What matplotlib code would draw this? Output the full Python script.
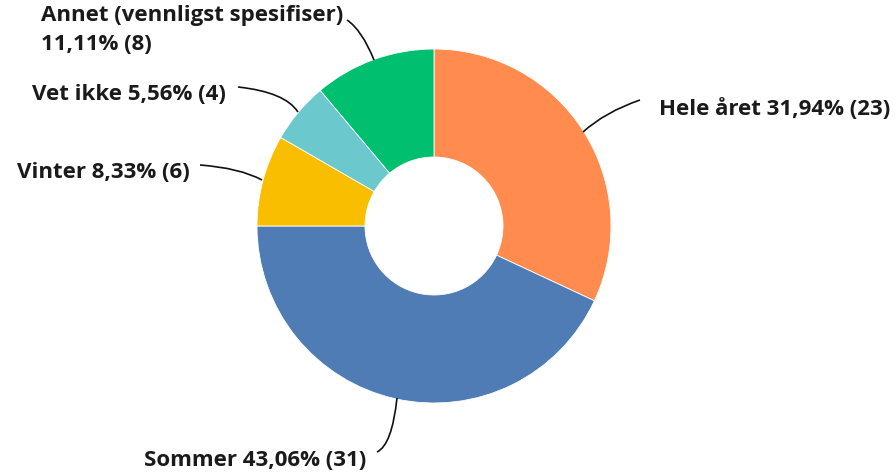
import matplotlib.pyplot as plt
from matplotlib.path import Path
from matplotlib.patches import PathPatch

categories = ["Hele året", "Sommer", "Vinter", "Vet ikke", "Annet (vennligst spesifiser)"]
percents = [31.94, 43.06, 8.33, 5.56, 11.11]
counts = [23, 31, 6, 4, 8]
colors = ["#FF8B4F", "#507CB6", "#F9BE00", "#6BC8CD", "#00BF6F"]

W, H = 896, 475
fig = plt.figure(figsize=(W / 100, H / 100), dpi=100)
ax = fig.add_axes([0, 0, 1, 1])

cx, cy = 434, H - 226
ax.pie(counts, colors=colors, startangle=90, counterclock=False,
       center=(cx, cy), radius=177, frame=True,
       wedgeprops=dict(width=108, edgecolor="white", linewidth=0.6))
ax.set_xlim(0, W)
ax.set_ylim(0, H)
ax.set_aspect("equal")
ax.axis("off")


def fmt(p):
    return f"{p:.2f}".replace(".", ",")


labels = [f"{c} {fmt(p)}% ({n})" for c, p, n in zip(categories, percents, counts)]
labels[4] = f"{categories[4]}\n{fmt(percents[4])}% ({counts[4]})"

# label anchor (left x, centre y in image pixels), leader line start, ctrl, end
label_pos = [(659, 109), (144, 461), (17, 172), (32, 95), (41, 30)]
leaders = [
    [(640, 100), (605, 112), (583, 132)],
    [(377, 452), (392, 445), (397, 398)],
    [(200, 165), (240, 168), (262, 180)],
    [(238, 87), (285, 92), (298, 112)],
    [(347, 20), (362, 30), (374, 60)],
]

font = ["Open Sans", "DejaVu Sans"]
for i, (lab, (x, y)) in enumerate(zip(labels, label_pos)):
    ax.text(x, H - y, lab, ha="left", va="center", fontsize=16,
            fontweight="bold", family=font, color="#1a1a1a",
            linespacing=1.5 if i == 4 else 1.15)

for pts in leaders:
    verts = [(px, H - py) for px, py in pts]
    path = Path(verts, [Path.MOVETO, Path.CURVE3, Path.CURVE3])
    ax.add_patch(PathPatch(path, fill=False, edgecolor="#111111", linewidth=1.2))

fig.savefig("out.png", dpi=100)
